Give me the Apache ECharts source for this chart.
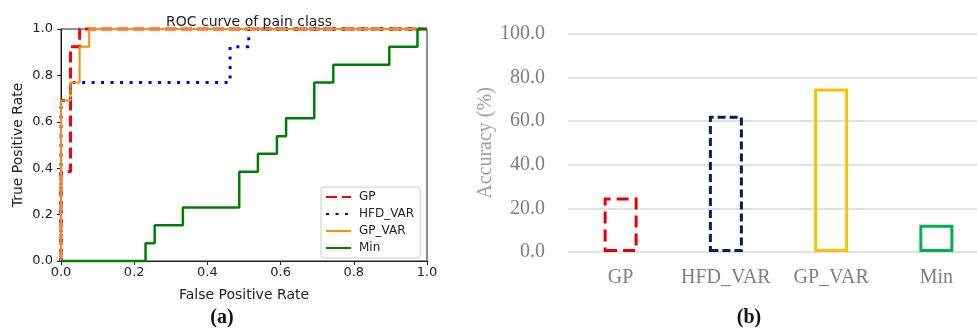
<!DOCTYPE html>
<html>
<head>
<meta charset="utf-8">
<script src="https://cdn.jsdelivr.net/npm/echarts@6/dist/echarts.min.js"></script>
<style>
	html, body { margin: 0; padding: 0; background: #fff; }
	#chart { width: 977px; height: 331px; }
</style>
</head>
<body>
<div id="chart"></div>
<script>
// (a) ROC curves, corner points
var gpFpr = [0, 0, 0.026, 0.026, 0.051, 0.051, 1];
var gpTpr = [0, 0.385, 0.385, 0.923, 0.923, 1, 1];
var hfdFpr = [0, 0, 0.026, 0.026, 0.462, 0.462, 0.513, 0.513, 1];
var hfdTpr = [0, 0.692, 0.692, 0.769, 0.769, 0.923, 0.923, 1, 1];
var gpVarFpr = [0, 0, 0.026, 0.026, 0.051, 0.051, 0.077, 0.077, 1];
var gpVarTpr = [0, 0.692, 0.692, 0.769, 0.769, 0.923, 0.923, 1, 1];
var minFpr = [0, 0.231, 0.231, 0.256, 0.256, 0.333, 0.333, 0.487, 0.487, 0.538, 0.538, 0.590, 0.590,
	0.615, 0.615, 0.692, 0.692, 0.744, 0.744, 0.897, 0.897, 0.974, 0.974, 1];
var minTpr = [0, 0, 0.077, 0.077, 0.154, 0.154, 0.231, 0.231, 0.385, 0.385, 0.462, 0.462, 0.538,
	0.538, 0.615, 0.615, 0.769, 0.769, 0.846, 0.846, 0.923, 0.923, 1, 1];

// (b) accuracy bars
var accCategories = ['GP', 'HFD_VAR', 'GP_VAR', 'Min'];
var accValues = [25.0, 62.5, 75.0, 12.5];

function pairs(xs, ys) {
	return xs.map(function (x, i) { return [x, ys[i]]; });
}

var sansFont = 'DejaVu Sans';
var serifFont = 'Liberation Serif';

var chart = echarts.init(document.getElementById('chart'), null, { renderer: 'canvas' });

var rocLine = function (name, xs, ys, color, width, type) {
	return {
		name: name,
		type: 'line',
		xAxisIndex: 0,
		yAxisIndex: 0,
		data: pairs(xs, ys),
		symbol: 'none',
		showSymbol: false,
		clip: false,
		animation: false,
		lineStyle: { color: color, width: width, type: type },
		itemStyle: { color: color }
	};
};

var barStyles = [
	{ color: '#e60000', type: [12, 6] },
	{ color: '#002060', type: [8, 4] },
	{ color: '#ffc000', type: 'solid' },
	{ color: '#00b050', type: 'solid' }
];

chart.setOption({
	animation: false,
	title: [{
		text: 'ROC curve of pain class',
		left: 244,
		top: 10,
		textAlign: 'center',
		textStyle: { fontFamily: sansFont, fontSize: 14, fontWeight: 'normal', color: '#222' }
	}],
	graphic: [{
		type: 'text', x: 222, y: 318,
		style: { text: '(a)', font: 'bold 20px "Liberation Serif"', fill: '#111', align: 'center', verticalAlign: 'middle' }
	}, {
		type: 'text', x: 749, y: 318,
		style: { text: '(b)', font: 'bold 20px "Liberation Serif"', fill: '#111', align: 'center', verticalAlign: 'middle' }
	}],
	legend: {
		orient: 'vertical',
		left: 321,
		top: 187,
		width: 100,
		padding: [4, 6, 4, 4],
		itemWidth: 25,
		itemHeight: 12,
		itemGap: 5,
		borderColor: '#cccccc',
		borderWidth: 1,
		borderRadius: 3,
		backgroundColor: '#fff',
		itemStyle: { opacity: 0 },
		data: ['GP', 'HFD_VAR', 'GP_VAR', 'Min'],
		textStyle: { fontFamily: sansFont, fontSize: 12, color: '#222', padding: [0, 0, 0, 3] }
	},
	grid: [{
		left: 61, top: 29, width: 366, height: 232,
		outerBoundsMode: 'none',
		show: true, borderColor: '#222', borderWidth: 1, backgroundColor: 'transparent'
	}, {
		left: 568, top: 34, width: 421, height: 218,
		outerBoundsMode: 'none'
	}],
	xAxis: [{
		gridIndex: 0,
		type: 'value',
		min: 0, max: 1, interval: 0.2,
		name: 'False Positive Rate',
		nameLocation: 'middle',
		nameGap: 27,
		nameTextStyle: { fontFamily: sansFont, fontSize: 14, color: '#222' },
		axisLine: { show: true, onZero: false, lineStyle: { color: '#222', width: 1 } },
		axisTick: { show: true, length: 4, lineStyle: { color: '#222' } },
		axisLabel: {
			margin: 5, fontFamily: sansFont, fontSize: 13, color: '#222',
			formatter: function (v) { return v.toFixed(1); }
		},
		splitLine: { show: false }
	}, {
		gridIndex: 1,
		type: 'category',
		data: accCategories,
		axisLine: { show: false },
		axisTick: { show: false },
		axisLabel: { interval: 0, margin: 16, fontFamily: serifFont, fontSize: 20, color: '#7f7f7f' }
	}],
	yAxis: [{
		gridIndex: 0,
		type: 'value',
		min: 0, max: 1, interval: 0.2,
		name: 'True Positive Rate',
		nameLocation: 'middle',
		nameGap: 36,
		nameTextStyle: { fontFamily: sansFont, fontSize: 14, color: '#222' },
		axisLine: { show: true, onZero: false, lineStyle: { color: '#222', width: 1 } },
		axisTick: { show: true, length: 4, lineStyle: { color: '#222' } },
		axisLabel: {
			margin: 8, fontFamily: sansFont, fontSize: 13, color: '#222',
			formatter: function (v) { return v.toFixed(1); }
		},
		splitLine: { show: false }
	}, {
		gridIndex: 1,
		type: 'value',
		min: 0, max: 100, interval: 20,
		name: 'Accuracy (%)',
		nameLocation: 'middle',
		nameGap: 68,
		nameTextStyle: { fontFamily: serifFont, fontSize: 20, color: '#a0a0a0' },
		axisLine: { show: false },
		axisTick: { show: false },
		axisLabel: {
			margin: 23, fontFamily: serifFont, fontSize: 20, color: '#7f7f7f',
			formatter: function (v) { return v.toFixed(1); }
		},
		splitLine: { show: true, lineStyle: { color: '#d9d9d9', width: 1.5 } }
	}],
	series: [
		rocLine('GP', gpFpr, gpTpr, '#ff0000', 3, [11, 5]),
		rocLine('HFD_VAR', hfdFpr, hfdTpr, '#0000ff', 3, [3, 6.5]),
		rocLine('GP_VAR', gpVarFpr, gpVarTpr, '#ff8c00', 2, 'solid'),
		rocLine('Min', minFpr, minTpr, '#008000', 2.5, 'solid'),
		{
			type: 'bar',
			xAxisIndex: 1,
			yAxisIndex: 1,
			barWidth: 34,
			animation: false,
			data: accValues.map(function (v, i) {
				return {
					value: v,
					itemStyle: {
						color: 'transparent',
						borderColor: barStyles[i].color,
						borderWidth: 3,
						borderType: barStyles[i].type
					}
				};
			})
		}
	]
});
</script>
</body>
</html>
